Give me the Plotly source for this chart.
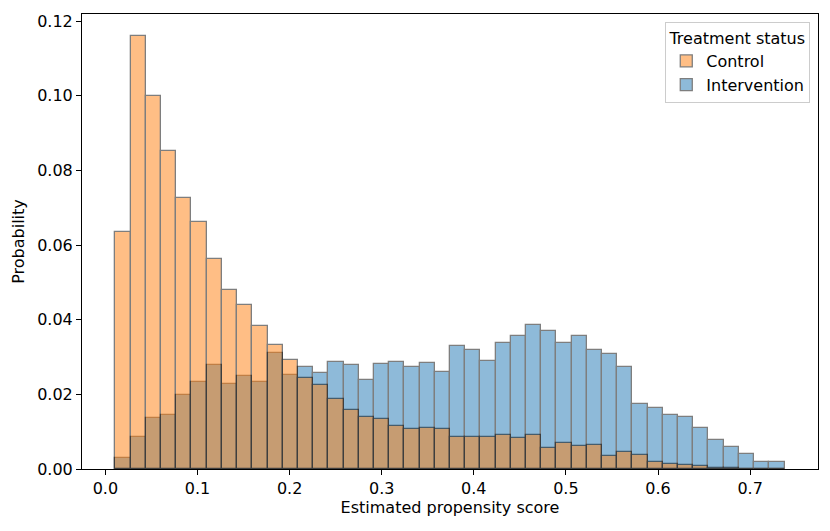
import numpy as np
import plotly.graph_objects as go

# Histogram bins (estimated propensity score)
bin_start = 0.0109
bin_width = 0.01651
n_bins = 44

control = [0.0635, 0.1160, 0.0999, 0.0853, 0.0726, 0.0661, 0.0562, 0.0479, 0.0440, 0.0382,
           0.0332, 0.0292, 0.0244, 0.0225, 0.0187, 0.0157, 0.0138, 0.0134, 0.0115, 0.0107,
           0.0111, 0.0108, 0.0087, 0.0085, 0.0087, 0.0090, 0.0083, 0.0090, 0.0057, 0.0070,
           0.0062, 0.0064, 0.0036, 0.0045, 0.0037, 0.0020, 0.0014, 0.0012, 0.0007, 0.0004,
           0.0002, 0.0001, 0.0, 0.0]
intervention = [0.0029, 0.0086, 0.0136, 0.0144, 0.0197, 0.0234, 0.0278, 0.0228, 0.0248, 0.0234,
                0.0310, 0.0251, 0.0272, 0.0256, 0.0287, 0.0278, 0.0239, 0.0281, 0.0286, 0.0273,
                0.0284, 0.0260, 0.0329, 0.0320, 0.0290, 0.0337, 0.0357, 0.0385, 0.0371, 0.0337,
                0.0355, 0.0320, 0.0309, 0.0273, 0.0174, 0.0163, 0.0144, 0.0138, 0.0110, 0.0079,
                0.0060, 0.0040, 0.0018, 0.0018]

centers = bin_start + bin_width * (np.arange(n_bins) + 0.5)

FONT = "DejaVu Sans"
FS = 16

fig = go.Figure()
fig.add_trace(go.Bar(
    x=centers, y=intervention, width=bin_width, name="Intervention",
    marker=dict(color="#1f77b4", line=dict(color="black", width=1.3)),
    opacity=0.5, legendrank=2,
))
fig.add_trace(go.Bar(
    x=centers, y=control, width=bin_width, name="Control",
    marker=dict(color="#ff7f0e", line=dict(color="black", width=1.3)),
    opacity=0.5, legendrank=1,
))

axis_common = dict(
    showgrid=False, zeroline=False, showline=True, linecolor="black", linewidth=1.1,
    mirror=True, ticks="outside", ticklen=5, tickwidth=1.1, tickcolor="black",
    tickfont=dict(family=FONT, size=FS, color="black"),
)

fig.update_layout(
    width=822, height=523,
    margin=dict(l=74, r=12, t=4, b=62),
    barmode="overlay", bargap=0,
    plot_bgcolor="white", paper_bgcolor="white",
    font=dict(family=FONT, size=FS, color="black"),
    xaxis=dict(range=[-0.0254, 0.7737], dtick=0.1, tick0=0, tickformat=".1f",
               title=dict(text="Estimated propensity score", font=dict(family=FONT, size=FS), standoff=4),
               **axis_common),
    yaxis=dict(range=[0, 0.1219], dtick=0.02, tick0=0, tickformat=".2f",
               title=dict(text="Probability", font=dict(family=FONT, size=FS), standoff=8),
               **axis_common),
    legend=dict(
        x=0.9895, y=0.982, xanchor="right", yanchor="top",
        bgcolor="rgba(255,255,255,0.8)", bordercolor="#cccccc", borderwidth=1,
        font=dict(family=FONT, size=FS, color="black"),
        title=dict(text="Treatment status", side="top center", font=dict(family=FONT, size=FS)),
        traceorder="normal",
    ),
    showlegend=True,
)

fig.write_html("out.html")
